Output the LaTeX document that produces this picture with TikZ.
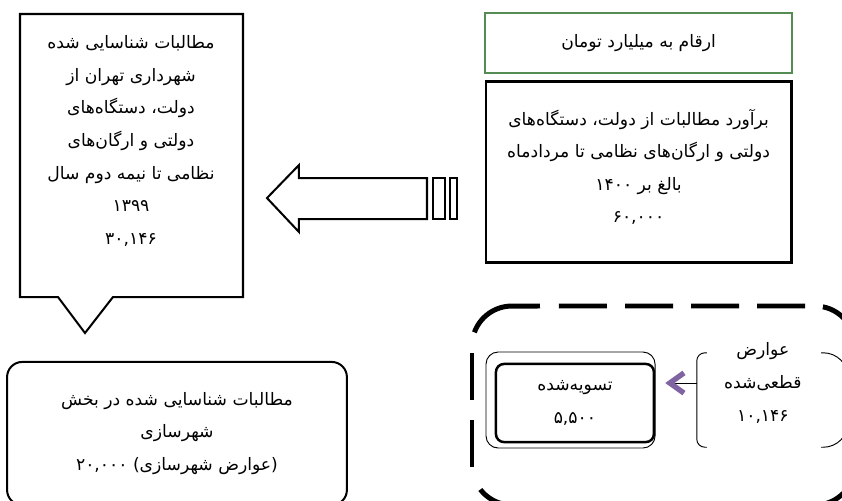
\documentclass[tikz,border=0pt]{standalone}
\usepackage{fontspec}
\newfontfamily\persianfont[Script=Arabic]{DejaVu Sans}
\TeXXeTstate=1
\usetikzlibrary{calc,positioning,arrows.meta}
\definecolor{boxgreen}{RGB}{84,140,84}
\definecolor{arrowpurple}{RGB}{128,100,162}

\begin{document}
\begin{tikzpicture}[
  txt/.style={align=center,font=\persianfont\fontsize{14.5}{27.5}\selectfont},
  thickbox/.style={draw,line width=1.7pt},
  thinline/.style={line width=0.8pt},
  frame/.style={line width=4.2pt}
]
\useasboundingbox (0,0) rectangle (25,14.846);
\clip (0,0) rectangle (25,14.846);

% callout at top left
\draw [thickbox] (0.594,14.43) -- (7.215,14.43) -- (7.215,6.027) -- (3.355,6.027) -- (2.524,4.958) coordinate(tip) -- (1.722,6.027) -- (0.594,6.027) -- cycle;
\node[txt] (shenasayi) at (3.89,10.66) {\beginR مطالبات شناسایی شده\endR\\
\beginR شهرداری تهران از\endR\\
\beginR دولت، دستگاه‌های\endR\\
\beginR دولتی و ارگان‌های\endR\\
\beginR نظامی تا نیمه دوم سال\endR\\
\beginR ۱۳۹۹\endR\\
\beginR ۳۰,۱۴۶\endR};

% boxes at top right
\node[txt,draw=boxgreen,line width=1.7pt,minimum width=9.11cm,minimum height=1.78cm] (arqam) at (18.96,13.57) {\beginR ارقام به میلیارد تومان\endR};
\node[draw,line width=2.5pt,minimum width=9.06cm,minimum height=5.37cm,below=0.18cm of arqam] (baravard) {};
\node[txt] (baravardtxt) at ($(baravard.center)+(0,0.15)$) {\beginR برآورد مطالبات از دولت، دستگاه‌های\endR\\
\beginR دولتی و ارگان‌های نظامی تا مردادماه\endR\\
\beginR بالغ بر ۱۴۰۰\endR\\
\beginR ۶۰,۰۰۰\endR};

% striped arrow
\draw [thickbox,fill=white] (7.927,8.966) -- (8.877,9.946) -- (8.877,9.56) -- (12.678,9.56) -- (12.678,8.343) -- (8.877,8.343) -- (8.877,7.958) -- cycle;
\foreach \xa/\xb in {12.856/13.212,13.36/13.569}{
\draw [thickbox] (\xa,8.343) rectangle (\xb,9.56);
}

% bottom left
\node[txt,thickbox,rounded corners=0.45cm,minimum width=10.09cm,minimum height=4.25cm] (shahrsazi) at (5.255,1.974) {\beginR مطالبات شناسایی شده در بخش\endR\\
\beginR شهرسازی\endR\\
\beginR (عوارض شهرسازی) ۲۰,۰۰۰\endR};

% dashed frame
\draw [frame,dash pattern=on 40.55pt off 15.21pt] (16.597,5.76) -- (24.197,5.76) arc[start angle=90,end angle=0,radius=1.1876] -- (25.385,1.039) arc[start angle=0,end angle=-90,radius=1.1876] -- (15.201,-0.148) arc[start angle=270,end angle=195,radius=1.1876];
\draw [frame] (15.201,4.572) ++(160:1.1876) arc[start angle=160,end angle=90,radius=1.1876] -- (16.033,5.76);
\foreach \ya/\yb in {4.364/2.969,2.375/0.980}{
\draw [frame] (14.014,\ya) -- (14.014,\yb);
}

\node[draw,thinline,rounded corners=0.36cm,minimum width=5.02cm,minimum height=2.85cm] (taswieqab) at (16.94,2.969) {};
\node[txt,draw,line width=2.1pt,rounded corners=0.24cm,minimum width=4.69cm,minimum height=2.32cm] (taswie) at (17.07,2.88) {\beginR تسویه‌شده\endR\\
\beginR ۵,۵۰۰\endR};

\node[minimum width=4.48cm,minimum height=2.79cm] (qati) at (22.935,2.969) {};
\node[txt] (qatitxt) at (22.65,3.474) {\beginR عوارض\endR\\
\beginR قطعی‌شده\endR\\
\beginR ۱۰,۱۴۶\endR};
\draw [thinline,rounded corners=0.24cm] ($(qati.north west)+(0.3,0)$) -- (qati.north west) -- (qati.south west) -- ($(qati.south west)+(0.3,0)$);
\draw [thinline,rounded corners=0.74cm] ($(qati.north east)+(-0.8,0)$) -- (qati.north east) -- (qati.south east) -- ($(qati.south east)+(-0.8,0)$);

\draw [thinline,-{Straight Barb[color=arrowpurple,length=0.42cm,width=0.6cm,line width=4.5pt]}] (qati.west |- qatitxt) -- ([xshift=0.3cm]taswie.east |- qatitxt);

\end{tikzpicture}
\end{document}
